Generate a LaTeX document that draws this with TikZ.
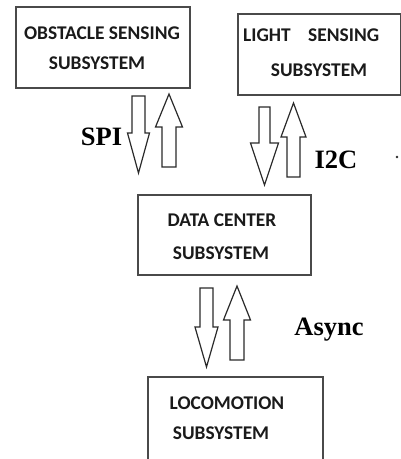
\documentclass[tikz,border=0pt]{standalone}
\usepackage{fontspec}
\newfontfamily\boxfont{Carlito Bold}
\newfontfamily\labfont{Liberation Serif}
\definecolor{ink}{HTML}{2A2A2A}
\definecolor{txtink}{HTML}{1A1A1A}
\newcommand{\blockarr}[7]{% name, cx, start y, head base y, tip y, shaft half, head half
  \coordinate (#1-tail) at (#2,#3);
  \coordinate (#1-tip) at (#2,#5);
  \draw[arrline] ($(#1-tail)+(-#6,0)$) -- ($(#2,#4)+(-#6,0)$) -- ($(#2,#4)+(-#7,0)$) -- (#1-tip)
    -- ($(#2,#4)+(#7,0)$) -- ($(#2,#4)+(#6,0)$) -- ($(#1-tail)+(#6,0)$) -- cycle;
}
\usetikzlibrary{calc}
\begin{document}
\begin{tikzpicture}[x=1pt,y=-1pt,
  sysbox/.style={draw=ink!85, line width=1.5pt, fill=white, inner sep=0pt, rectangle},
  boxtxt/.style={font=\boxfont\fontsize{19.4}{21}\selectfont, text=txtink, inner sep=0pt},
  lab/.style={font=\labfont\bfseries\fontsize{26.5}{28}\selectfont, text=black, inner sep=0pt},
  arrline/.style={draw=ink, line width=1.2pt, fill=white, line join=miter}]
\useasboundingbox (0,0) rectangle (401,459);
\clip (0,0) rectangle (401,459);
\fill[white] (0,0) rectangle (401,459);
% boxes
\node[sysbox, minimum width=174pt, minimum height=81pt] (obs) at (103,47.5) {};
\node[sysbox, minimum width=163pt, minimum height=81pt] (light) at (319.5,54.5) {};
\node[sysbox, minimum width=173pt, minimum height=80pt] (data) at (224.5,235) {};
\node[sysbox, minimum width=175pt, minimum height=85pt] (loco) at (235.5,419.5) {};
% texts
\node[boxtxt] (obs1) at (102,33) {OBSTACLE SENSING};
\node[boxtxt] (obs2) at (97,63) {SUBSYSTEM};
\node[boxtxt, anchor=west] (light1) at (243,35) {LIGHT\hspace{0.9em}SENSING};
\node[boxtxt] (light2) at (319,70) {SUBSYSTEM};
\node[boxtxt] (data1) at (222,220) {DATA CENTER};
\node[boxtxt] (data2) at (221,253) {SUBSYSTEM};
\node[boxtxt] (loco1) at (227,403) {LOCOMOTION};
\node[boxtxt] (loco2) at (221,433) {SUBSYSTEM};
% block arrows
\blockarr{spid}{138.5}{96}{133}{173}{6.5}{11}
\blockarr{spiu}{169}{167}{127}{94}{7}{13.5}
\blockarr{icd}{264.5}{107}{143}{185}{5.5}{14}
\blockarr{icu}{293.5}{177}{137}{103}{6.5}{12.5}
\blockarr{asd}{206.5}{288}{327}{367}{6.5}{11.5}
\blockarr{asu}{237}{360}{320}{286}{7}{13.5}
% labels
\node[lab] (spi) at (101.5,137) {SPI};
\node[lab] (i2c) at (336,160) {I2C};
\node[lab] (async) at (329,330) {Async};
\fill[ink] (397,157) circle (1.3pt);
\end{tikzpicture}
\end{document}
